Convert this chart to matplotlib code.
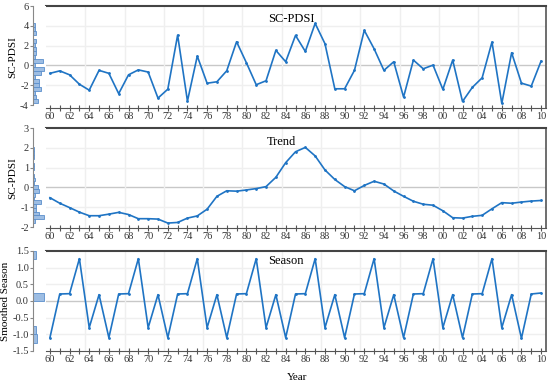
import numpy as np
import matplotlib
matplotlib.use('Agg')
import matplotlib.pyplot as plt
from matplotlib.ticker import FuncFormatter, MultipleLocator, FixedLocator

plt.rcParams['font.family'] = ['Liberation Serif', 'DejaVu Serif']
plt.rcParams['axes.unicode_minus'] = False

years = np.arange(1960, 2011)

# SC-PDSI yearly values
pdsi = [-0.80, -0.55, -0.95, -1.90, -2.50, -0.50, -0.80, -2.85, -0.95, -0.45,
        -0.67, -3.30, -2.40, 3.06, -3.60, 0.94, -1.80, -1.65, -0.54, 2.39,
        0.27, -1.95, -1.55, 1.52, 0.37, 3.03, 1.41, 4.24, 2.19, -2.36,
        -2.36, -0.50, 3.54, 1.68, -0.50, 0.37, -3.20, 0.54, -0.34, 0.03,
        -2.42, 0.54, -3.64, -2.22, -1.25, 2.36, -3.84, 1.28, -1.79, -2.09,
        0.44]

# trend component
trend = [-0.52, -0.80, -1.02, -1.25, -1.43, -1.43, -1.35, -1.26, -1.37, -1.58,
         -1.58, -1.60, -1.80, -1.77, -1.55, -1.44, -1.10, -0.45, -0.17, -0.19,
         -0.13, -0.06, 0.04, 0.51, 1.25, 1.80, 2.02, 1.59, 0.88, 0.40,
         0.04, -0.17, 0.10, 0.31, 0.17, -0.18, -0.45, -0.70, -0.85, -0.90,
         -1.18, -1.53, -1.55, -1.46, -1.41, -1.08, -0.77, -0.80, -0.74, -0.69,
         -0.66]

# smoothed season component
season = [-1.10, 0.21, 0.22, 1.27, -0.80, 0.19, -1.10, 0.21, 0.22, 1.27,
          -0.80, 0.19, -1.10, 0.21, 0.22, 1.27, -0.80, 0.19, -1.10, 0.21,
          0.22, 1.27, -0.80, 0.19, -1.10, 0.21, 0.22, 1.27, -0.80, 0.19,
          -1.10, 0.21, 0.22, 1.27, -0.80, 0.19, -1.10, 0.21, 0.22, 1.27,
          -0.80, 0.19, -1.10, 0.21, 0.22, 1.27, -0.80, 0.19, -1.12, 0.21,
          0.24]

panels = [
    # series, title, ylabel, ylim, yticks, bins, title x/y
    (pdsi, 'SC-PDSI', 'SC-PDSI', (-4.3, 6), [-4, -2, 0, 2, 4, 6], 20, 0.49, 0.87),
    (trend, 'Trend', 'SC-PDSI', (-2.05, 3), [-2, -1, 0, 1, 2, 3], 20, 0.47, 0.86),
    (season, 'Season', 'Smoothed Season', (-1.5, 1.5),
     [-1.5, -1.0, -0.5, 0.0, 0.5, 1.0, 1.5], np.arange(-1.25, 1.51, 0.25), 0.48, 0.9),
]

W, H = 550, 385
rows = [(6, 108), (128, 228), (251, 351)]  # pixel top/bottom of each panel

line_c = '#1f74c4'
fig = plt.figure(figsize=(5.5, 3.85), dpi=100)

for (data, title, ylab, ylim, yticks, bins, tx, ty), (top, bot) in zip(panels, rows):
    b = 1 - bot / H
    h = (bot - top) / H
    ax = fig.add_axes([46 / W, b, 500 / W, h])
    hx = fig.add_axes([33 / W, b, 13 / W, h], sharey=ax)

    ax.plot(years, data, color=line_c, lw=1.2, marker='.', ms=2)
    ax.set_xlim(1959.6, 2010.5)
    ax.set_ylim(*ylim)

    # grid
    for v in yticks[1:-1]:
        ax.axhline(v, color='#c8c8c8' if v == 0 else '#efefef', lw=1, zorder=0)
    for gx in np.arange(1963.6, 2010, 4):
        ax.axvline(gx, color='#efefef', lw=1, zorder=0)

    ax.spines['left'].set_visible(False)
    ax.spines['top'].set_color('#444444')
    ax.spines['top'].set_linewidth(1.5)
    ax.spines['right'].set_color('#555555')
    ax.spines['right'].set_linewidth(1.2)
    ax.spines['bottom'].set_color('#555555')
    ax.tick_params(axis='y', left=False, labelleft=False)
    ax.xaxis.set_major_locator(MultipleLocator(2))
    ax.xaxis.set_minor_locator(MultipleLocator(1))
    ax.xaxis.set_major_formatter(FuncFormatter(lambda x, p: '%02d' % (int(x) % 100)))
    ax.tick_params(axis='x', which='both', direction='inout', length=4,
                   width=0.8, color='#555555', labelsize=7.5, pad=1,
                   labelcolor='#333333')
    ax.text(tx, ty, title, transform=ax.transAxes, ha='center', va='center',
            fontsize=9)

    # histogram of the series on the left margin
    counts, _, _ = hx.hist(data, bins=bins, orientation='horizontal',
                           color='#9dbde3', edgecolor='#5b8fcc', linewidth=0.6)
    hx.set_xlim(0, counts.max() * 1.15)
    for s in ['top', 'right', 'bottom']:
        hx.spines[s].set_visible(False)
    hx.spines['left'].set_color('#888888')
    hx.spines['left'].set_bounds(yticks[0], yticks[-1])
    hx.set_xticks([])
    hx.yaxis.set_major_locator(FixedLocator(yticks))
    if isinstance(yticks[0], float):
        hx.yaxis.set_major_formatter(FuncFormatter(lambda y, p: '%.1f' % y))
    hx.tick_params(axis='y', labelsize=7.5, length=2, color='#888888', pad=1,
                   labelcolor='#333333')
    hx.set_ylabel(ylab, fontsize=8, labelpad=2)
    hx.set_ylim(*ylim)

fig.text(297 / W, 1 - 378 / H, 'Year', ha='center', va='center', fontsize=8)

fig.savefig('out.png', dpi=100)
